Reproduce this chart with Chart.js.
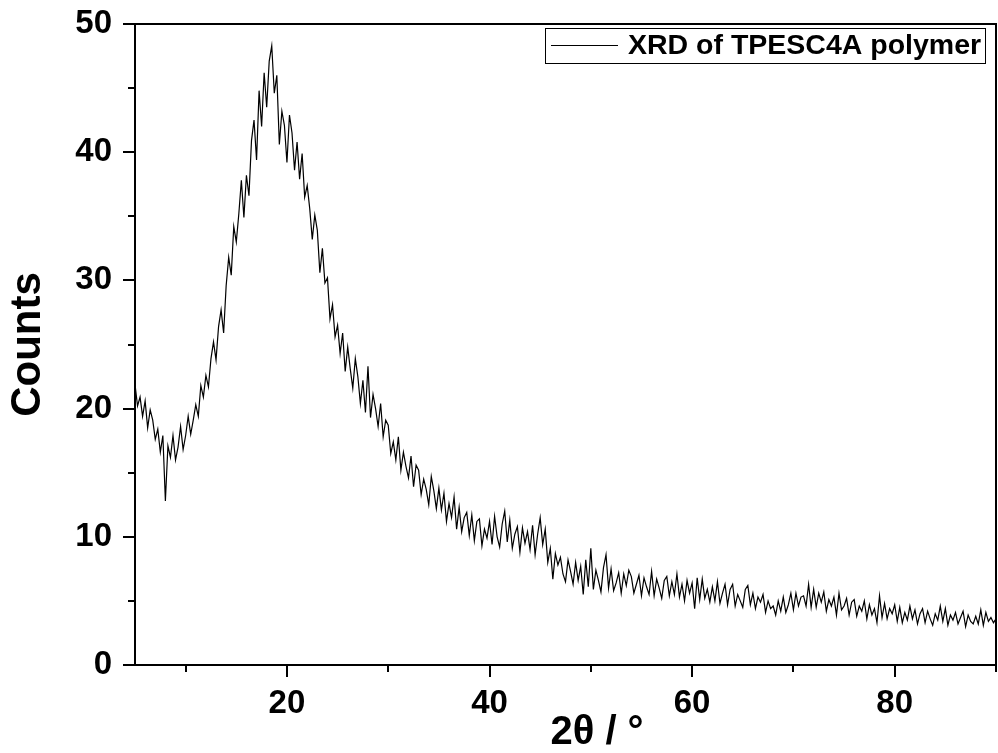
<!DOCTYPE html>
<html>
<head>
<meta charset="utf-8">
<script src="https://cdn.jsdelivr.net/npm/chart.js@4.4.1/dist/chart.umd.min.js"></script>
<style>
  html, body { margin: 0; padding: 0; background: #fff; }
  #wrap { width: 998px; height: 753px; position: relative; }
</style>
</head>
<body>
<div id="wrap"><canvas id="c" width="998" height="753"></canvas></div>
<script>
// ---- data (2θ grid: 5° to 90°, step 0.25°) ----
const twoThetaStart = 5;
const twoThetaStep = 0.25;

// counts, 4 readings per degree (x.00, x.25, x.50, x.75)
const counts05to15 = [
  21.9, 20.2, 20.9, 19.4,
  20.6, 18.5, 19.9, 19.1,
  17.6, 18.4, 16.6, 17.9,
  12.8, 17.1, 16.2, 17.9,
  16.0, 17.0, 18.6, 16.8,
  17.9, 19.4, 18.0, 19.1,
  20.3, 19.4, 21.8, 20.9,
  22.6, 21.7, 23.9, 25.2,
  23.8, 26.4, 27.7, 25.9,
  29.6, 31.8, 30.4, 34.2
];
const counts15to25 = [
  33.0, 35.2, 37.8, 34.9,
  38.2, 36.6, 40.9, 42.5,
  39.4, 44.8, 42.0, 46.2,
  43.5, 47.1, 48.3, 44.6,
  46.0, 40.6, 43.2, 42.1,
  39.2, 42.9, 41.5, 38.6,
  40.8, 37.9, 39.9, 36.5,
  37.4, 35.6, 33.2, 35.1,
  33.9, 30.6, 32.5, 29.8,
  30.2, 27.0, 28.1, 25.6
];
const counts25to35 = [
  26.5, 24.3, 25.9, 22.9,
  24.8, 23.1, 21.6, 23.9,
  22.5, 20.4, 22.2, 19.7,
  23.3, 19.3, 21.1, 20.0,
  18.6, 20.4, 17.8, 19.1,
  18.7, 16.5, 17.4, 16.0,
  17.8, 15.2, 16.6, 15.5,
  14.6, 16.3, 13.9, 15.6,
  15.2, 13.3, 14.5, 13.7,
  12.5, 14.7, 13.6, 12.2
];
const counts35to50 = [
  13.8, 12.1, 13.4, 11.2,
  12.6, 11.5, 13.1, 10.6,
  12.3, 10.4, 11.5, 11.9,
  10.1, 11.7, 9.7, 11.2,
  11.4, 9.3, 10.6, 9.9,
  11.2, 9.4, 11.6, 10.0,
  9.2, 11.0, 12.0, 9.6,
  11.3, 9.1, 10.2, 10.8,
  8.8, 10.7, 9.5, 10.4,
  9.0, 10.9, 8.6, 10.2,
  11.5, 9.4, 10.6, 8.0,
  9.1, 6.7, 8.7, 7.8,
  8.4, 7.1, 6.5, 8.2,
  7.3, 6.3, 8.0, 6.6,
  7.7, 5.5, 8.2, 6.1
];
const counts50to70 = [
  9.1, 5.9, 7.4, 6.6,
  5.7, 7.6, 8.6, 6.0,
  7.5, 5.8, 6.4, 7.2,
  5.6, 7.1, 6.2, 7.4,
  6.9, 5.6, 6.3, 7.0,
  5.4, 6.8, 6.1, 5.5,
  7.3, 5.4, 6.7, 6.0,
  5.2, 6.6, 6.9, 5.4,
  6.5, 5.5, 7.1, 5.3,
  6.3, 5.0, 6.6, 5.6,
  6.4, 4.4, 6.8, 5.1,
  6.7, 5.2, 5.9, 4.9,
  6.1, 5.0, 6.5, 4.8,
  5.6, 6.3, 4.7, 5.9,
  6.3, 4.6, 5.5, 5.0,
  4.5, 5.9, 6.2, 4.7,
  5.6, 4.4, 5.3, 4.9,
  5.5, 4.1, 5.0, 4.4,
  4.6, 3.9, 5.0, 4.2,
  5.3, 4.1, 4.7, 5.6
];
const counts70to90 = [
  4.3, 5.6, 4.6, 5.3,
  5.4, 4.6, 6.3, 4.5,
  5.9, 4.5, 5.6, 4.9,
  5.7, 4.2, 5.1, 4.6,
  5.3, 3.9, 5.6, 4.3,
  4.6, 5.2, 3.9, 4.9,
  5.1, 3.8, 4.6, 4.2,
  5.0, 3.6, 4.7, 3.9,
  4.4, 3.3, 5.4, 3.7,
  4.8, 3.6, 4.4, 4.0,
  4.7, 3.4, 4.5, 3.3,
  4.1, 3.5, 4.6, 3.6,
  4.3, 3.2, 4.0, 4.4,
  3.3, 4.2, 3.6, 3.1,
  4.0, 3.5, 4.6, 3.4,
  4.4, 3.1, 3.9, 3.5,
  4.1, 3.2, 3.7, 4.2,
  3.0, 3.9, 3.4, 3.2,
  3.8, 3.2, 4.3, 3.1,
  4.1, 3.4, 3.7, 3.3,
  3.6
];

const xTicks = [10, 20, 30, 40, 50, 60, 70, 80, 90];
const xTickLabels = [20, 40, 60, 80];
const yTicks = [0, 5, 10, 15, 20, 25, 30, 35, 40, 45, 50];
const yTickLabels = [0, 10, 20, 30, 40, 50];
const seriesLabel = 'XRD of TPESC4A polymer';
const xTitle = '2θ / °';
const yTitle = 'Counts';

const counts = [].concat(counts05to15, counts15to25, counts25to35, counts35to50, counts50to70, counts70to90);
const points = counts.map((c, i) => ({ x: twoThetaStart + i * twoThetaStep, y: c }));

const FONT = '"Liberation Sans", Arial, sans-serif';
Chart.defaults.color = '#000';
Chart.defaults.font.family = FONT;

const framePlugin = {
  id: 'frame',
  afterDraw(chart) {
    const { ctx, chartArea: a, scales } = chart;
    ctx.save();
    ctx.strokeStyle = '#000';
    ctx.lineWidth = 2;
    ctx.strokeRect(a.left, a.top, a.right - a.left, a.bottom - a.top);
    // ticks
    ctx.beginPath();
    xTicks.forEach(v => {
      const px = Math.round(scales.x.getPixelForValue(v));
      const len = xTickLabels.includes(v) ? 12 : 7;
      ctx.moveTo(px, a.bottom);
      ctx.lineTo(px, a.bottom + len);
    });
    yTicks.forEach(v => {
      const py = Math.round(scales.y.getPixelForValue(v));
      const len = yTickLabels.includes(v) ? 12 : 7;
      ctx.moveTo(a.left, py);
      ctx.lineTo(a.left - len, py);
    });
    ctx.stroke();
    // x axis title
    ctx.fillStyle = '#000';
    ctx.font = 'bold 40px ' + FONT;
    ctx.textAlign = 'center';
    ctx.textBaseline = 'middle';
    ctx.fillText(xTitle, 597, 733);
    // legend box
    const lx = 545, ly = 28, lw = 440, lh = 35;
    ctx.fillStyle = '#fff';
    ctx.fillRect(lx, ly, lw, lh);
    ctx.lineWidth = 1;
    ctx.strokeRect(lx + 0.5, ly + 0.5, lw, lh);
    ctx.beginPath();
    ctx.moveTo(551, 45.5);
    ctx.lineTo(618, 45.5);
    ctx.stroke();
    ctx.fillStyle = '#000';
    ctx.font = 'bold 28.5px ' + FONT;
    ctx.textAlign = 'left';
    ctx.fillText(seriesLabel, 628, 46);
    ctx.restore();
  }
};

function noPad(s) {
  s.paddingTop = 0; s.paddingBottom = 0; s.paddingLeft = 0; s.paddingRight = 0;
}

new Chart(document.getElementById('c'), {
  type: 'line',
  data: {
    datasets: [{
      label: seriesLabel,
      data: points,
      borderColor: '#000',
      borderWidth: 1.2,
      pointRadius: 0,
      tension: 0,
      fill: false
    }]
  },
  options: {
    responsive: false,
    animation: false,
    layout: { padding: { left: 0, right: 2, top: 24, bottom: 0 } },
    plugins: { legend: { display: false }, tooltip: { enabled: false } },
    scales: {
      x: {
        type: 'linear',
        min: 5, max: 90,
        afterBuildTicks(s) { s.ticks = xTicks.map(v => ({ value: v })); },
        afterFit(s) { s.height = 88; noPad(s); },
        grid: { display: false },
        border: { display: false },
        ticks: {
          padding: 11,
          maxRotation: 0,
          autoSkip: false,
          font: { size: 33, weight: 'bold' },
          callback: v => xTickLabels.includes(v) ? String(v) : ''
        },
        title: { display: false }
      },
      y: {
        type: 'linear',
        min: 0, max: 50,
        afterBuildTicks(s) { s.ticks = yTicks.map(v => ({ value: v })); },
        afterFit(s) { s.width = 135; noPad(s); },
        grid: { display: false },
        border: { display: false },
        ticks: {
          padding: 15,
          autoSkip: false,
          font: { size: 33, weight: 'bold' },
          callback: v => yTickLabels.includes(v) ? String(v) : ''
        },
        title: {
          display: true,
          text: yTitle,
          font: { size: 42, weight: 'bold' },
          padding: { top: 3, bottom: 0 }
        }
      }
    }
  },
  plugins: [framePlugin]
});
</script>
</body>
</html>
